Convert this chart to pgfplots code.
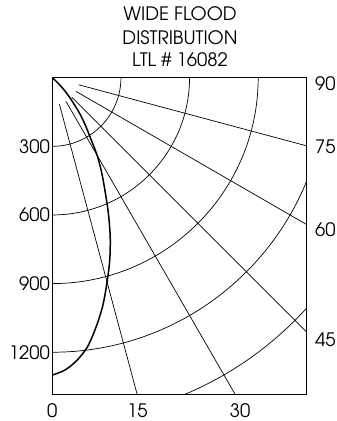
\documentclass[border=0pt]{standalone}
\usepackage{fontspec}
\setmainfont{TeX Gyre Adventor}
\usepackage{pgfplots}
\pgfplotsset{compat=1.18}
\usepackage{pgfplotstable}

% candela vs. angle from nadir
\pgfplotstableread{
ang   cd
0     1300
2.5   1279
5     1240
7.5   1185
10    1105
12.5  1020
15    925
17.5  835
20    740
22.5  640
25    545
27.5  467
30    392
32.5  307
35    250
37.5  196
40    139
42.5  97
45    58
47.5  22
49    0
}\lumtable

\newcommand{\lbl}{\fontsize{18.5}{22}\selectfont}

\begin{document}
\begin{tikzpicture}[x=1pt,y=1pt]
\path[use as bounding box] (0,0) rectangle (337,-421);
\node[anchor=base,font=\lbl] at (180,-20) {WIDE FLOOD};
\node[anchor=base,font=\lbl] at (180,-44.5) {DISTRIBUTION};
\node[anchor=base,font=\lbl] at (180,-66.7) {LTL \# 16082};
\begin{axis}[
    at={(52.3pt,-77.7pt)}, anchor=north west,
    scale only axis, width=254.4pt, height=316.6pt,
    xmin=0, xmax=1112, ymin=0, ymax=1384,
    y dir=reverse,
    xtick=\empty,
    ytick={300,600,900,1200},
    major tick length=0pt,
    yticklabel style={font=\lbl, xshift=1pt},
    /pgf/number format/assume math mode=true,
    /pgf/number format/1000 sep={},
    axis line style={line width=1.1pt},
    after end axis/.code={
        \node[font=\lbl,anchor=base] at (axis cs:0,1384) [yshift=-23pt] {0};
        \node[font=\lbl,anchor=base] at (axis cs:372,1384) [yshift=-23pt] {15};
        \node[font=\lbl,anchor=base] at (axis cs:821,1384) [yshift=-23pt] {30};
        \node[font=\lbl,anchor=west,inner sep=0pt] at (axis cs:1112,24.5) [xshift=8.3pt] {90};
        \node[font=\lbl,anchor=west,inner sep=0pt] at (axis cs:1112,303) [xshift=8.3pt] {75};
        \node[font=\lbl,anchor=west,inner sep=0pt] at (axis cs:1112,666) [xshift=8.3pt] {60};
        \node[font=\lbl,anchor=west,inner sep=0pt] at (axis cs:1112,1147) [xshift=8.3pt] {45};
    },
]
\pgfplotsinvokeforeach{1,2,3,4,5}{
    \draw[line width=0.7pt] (axis cs:0,0) circle[radius=#1*68.63pt];
}
\pgfplotsinvokeforeach{15,30,45,60,75}{
    \draw[line width=0.7pt] (axis cs:{120*sin(#1)},{120*cos(#1)}) -- (axis cs:{2500*sin(#1)},{2500*cos(#1)});
}
\addplot[black, line width=1.5pt, smooth, no marks]
    table[x expr={\thisrow{cd}*sin(\thisrow{ang})}, y expr={\thisrow{cd}*cos(\thisrow{ang})}] {\lumtable};
\end{axis}
\end{tikzpicture}
\end{document}
